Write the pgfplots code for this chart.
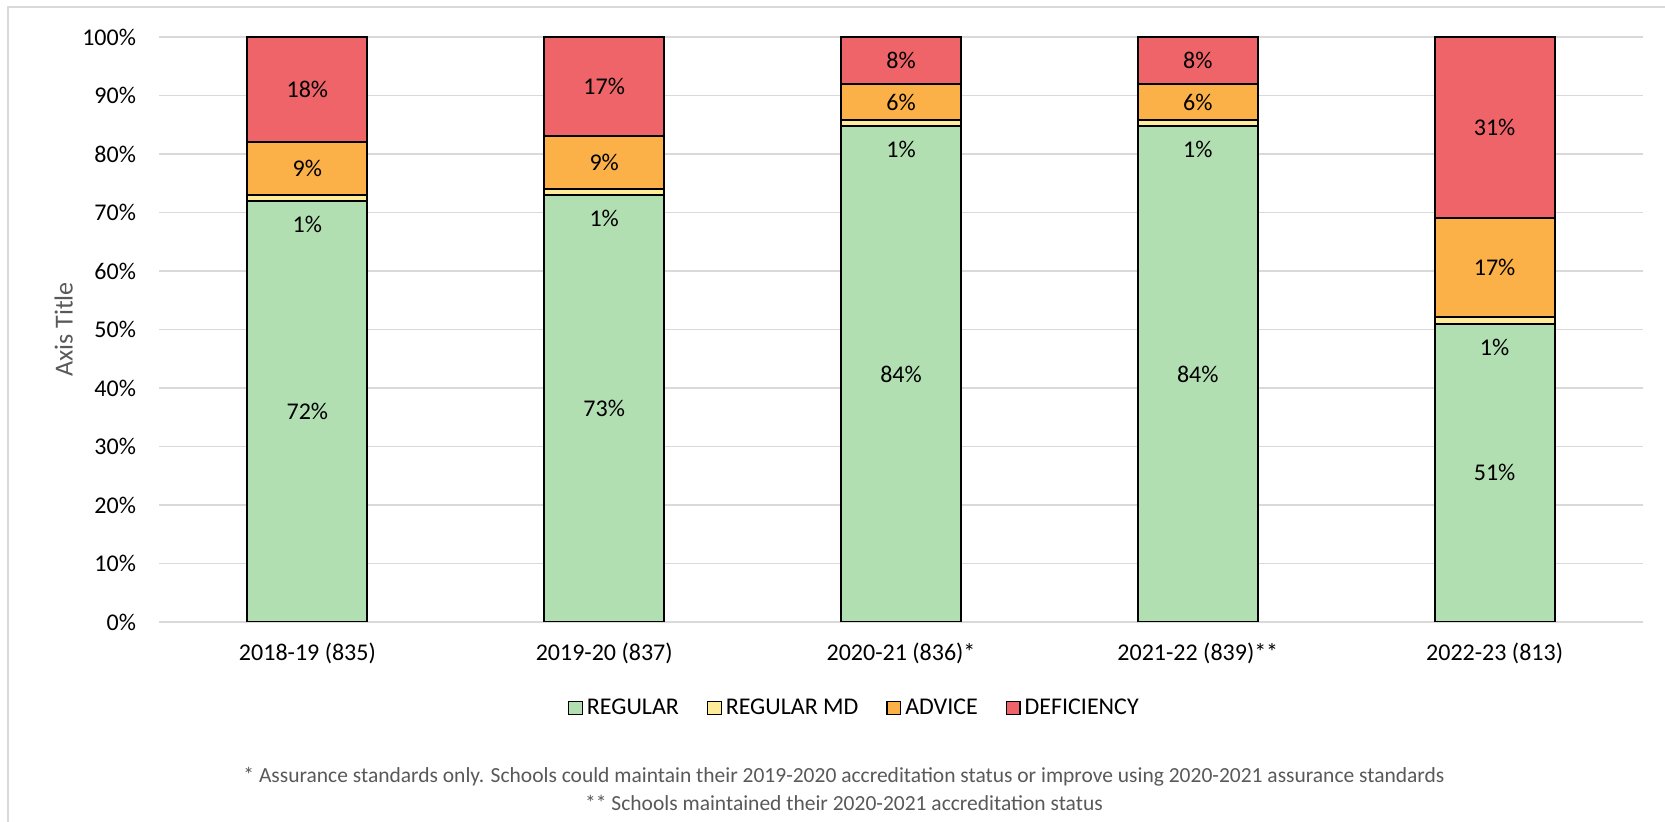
\documentclass[border=0pt]{standalone}
\usepackage{pgfplots}
\pgfplotsset{compat=1.18}
\usepackage{pgfplotstable}
\usepackage{fontspec}
\setmainfont{Carlito}
\definecolor{cGreen}{RGB}{178,223,178}
\definecolor{cYellow}{RGB}{255,236,153}
\definecolor{cOrange}{RGB}{251,176,72}
\definecolor{cRed}{RGB}{238,100,104}
\definecolor{cGrid}{RGB}{217,217,217}
\definecolor{cText}{RGB}{89,89,89}

\pgfplotstableread{
x regular regmd advice deficiency
0 72.0 1.0 9.0 18.0
1 73.0 1.1 8.9 17.0
2 84.8 1.0 6.2 8.0
3 84.7 1.1 6.2 8.0
4 51.0 1.1 16.9 31.0
}\data

% centred labels: x, y (segment centre), label
\pgfplotstableread{
x y lab
0 36.0 72
1 36.5 73
2 42.4 84
3 42.35 84
4 25.5 51
0 77.5 9
1 78.55 9
2 88.9 6
3 88.9 6
4 60.6 17
0 91.0 18
1 91.5 17
2 96.0 8
3 96.0 8
4 84.5 31
}\clabels

% REGULAR MD labels, placed just below the thin segment
\pgfplotstableread{
x y lab
0 72.0 1
1 73.0 1
2 84.8 1
3 84.7 1
4 51.0 1
}\ylabels

\pgfplotsset{
  common/.style={
    at={(79.5pt,100pt)}, anchor=south west,
    scale only axis, width=742pt, height=292.5pt,
    xmin=-0.5, xmax=4.5, ymin=0, ymax=100,
  },
}

\begin{document}
\begin{tikzpicture}
\useasboundingbox (0,0) rectangle (832.5pt,411pt);
\fill[white] (0,0) rectangle (832.5pt,411pt);
\draw[cGrid, line width=1pt] (4.2pt,0) -- (4.2pt,407.3pt) -- (832.5pt,407.3pt);

\begin{axis}[
  common,
  ybar stacked, bar width=60pt,
  xtick={0,1,2,3,4},
  xticklabels={2018-19 (835), 2019-20 (837), 2020-21 (836)*, 2021-22 (839)**, 2022-23 (813)},
  ytick={0,10,...,100},
  yticklabel={\pgfmathprintnumber{\tick}\%},
  /pgf/number format/assume math mode=true,
  ymajorgrids, grid style={cGrid, line width=0.8pt},
  axis line style={draw=none},
  major tick length=0pt,
  tick label style={font=\fontsize{12}{14}\selectfont, text=black},
  yticklabel style={xshift=-8pt},
  xticklabel style={yshift=-7pt},
  ylabel={Axis Title},
  ylabel style={at={(axis description cs:-0.0643,0.5)}, anchor=center, font=\fontsize{13}{15}\selectfont, text=cText},
  legend columns=4,
  legend style={at={(axis description cs:0.4693,-0.147)}, anchor=center, draw=none,
    font=\fontsize{12}{14}\selectfont,
    /tikz/every even column/.append style={column sep=12pt}},
  legend image code/.code={\draw[#1, draw=black, line width=0.6pt] (0pt,-3.4pt) rectangle (6.8pt,3.4pt);},
]
\addplot[fill=cGreen, draw=black, line width=1pt] table[x=x, y=regular] {\data};
\addlegendentry{REGULAR}
\addplot[fill=cYellow, draw=black, line width=1pt] table[x=x, y=regmd] {\data};
\addlegendentry{REGULAR MD}
\addplot[fill=cOrange, draw=black, line width=1pt] table[x=x, y=advice] {\data};
\addlegendentry{ADVICE}
\addplot[fill=cRed, draw=black, line width=1pt] table[x=x, y=deficiency] {\data};
\addlegendentry{DEFICIENCY}
\end{axis}

\begin{axis}[common, hide axis]
\addplot[only marks, mark=none, point meta=explicit symbolic,
  nodes near coords={\pgfplotspointmeta\%},
  every node near coord/.style={anchor=center, font=\fontsize{12}{14}\selectfont, text=black}]
  table[x=x, y=y, meta=lab] {\clabels};
\addplot[only marks, mark=none, point meta=explicit symbolic,
  nodes near coords={\pgfplotspointmeta\%},
  every node near coord/.style={anchor=north, yshift=-4pt, font=\fontsize{12}{14}\selectfont, text=black}]
  table[x=x, y=y, meta=lab] {\ylabels};
\end{axis}

\node[text=cText, font=\fontsize{10.75}{12}\selectfont] at (422pt,22.5pt)
  {* Assurance standards only. Schools could maintain their 2019-2020 accreditation status or improve using 2020-2021 assurance standards};
\node[text=cText, font=\fontsize{10.75}{12}\selectfont] at (422pt,9.4pt)
  {** Schools maintained their 2020-2021 accreditation status};
\end{tikzpicture}
\end{document}
